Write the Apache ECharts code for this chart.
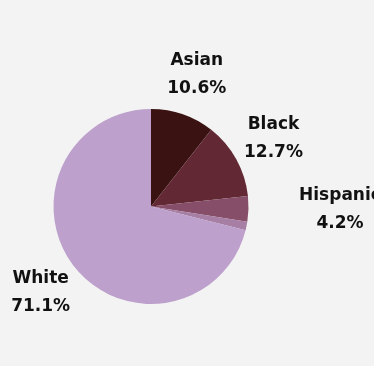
<!DOCTYPE html>
<html>
<head>
<meta charset="utf-8">
<script src="https://cdn.jsdelivr.net/npm/echarts@6/dist/echarts.min.js"></script>
<style>
html,body{margin:0;padding:0;background:#f2f3f2;}
#chart{width:374px;height:366px;}
</style>
</head>
<body>
<div id="chart"></div>
<script>
const categories = ["Asian", "Black", "Hispanic", "Other", "White"];
const values = [10.6, 12.7, 4.2, 1.4, 71.1];
const showLabel = [true, true, true, false, true];

const colors = ["#3a1212", "#622834", "#864e68", "#a77ea4", "#bda0cc"];
const labelOffsets = [[0, 0], [0, 0], [49, 0], [0, 0], [0, 0]];

const chart = echarts.init(document.getElementById('chart'), null, {renderer: 'canvas'});

const pieData = categories.map((c, i) => ({
  name: c, value: values[i], itemStyle: {color: colors[i]}
}));
const labelData = categories.map((c, i) => ({
  name: c, value: values[i],
  label: {show: showLabel[i], offset: labelOffsets[i]}
}));

chart.setOption({
  backgroundColor: '#f2f3f2',
  animation: false,
  series: [
    {
      type: 'pie',
      center: [151, 206.5],
      radius: [0, 97.5],
      startAngle: 90,
      label: {show: false},
      labelLine: {show: false},
      itemStyle: {borderWidth: 0},
      emphasis: {disabled: true},
      data: pieData
    },
    {
      type: 'pie',
      center: [151, 206.5],
      radius: [0, 274],
      startAngle: 90,
      silent: true,
      itemStyle: {color: 'rgba(0,0,0,0)', borderWidth: 0},
      emphasis: {disabled: true},
      labelLine: {show: false},
      label: {
        position: 'inside',
        formatter: p => p.name + '\n' + p.value.toFixed(1) + '%',
        color: '#111111',
        fontFamily: 'DejaVu Sans',
        fontWeight: 'bold',
        fontSize: 17,
        lineHeight: 28,
        align: 'center'
      },
      data: labelData
    }
  ]
});
</script>
</body>
</html>
